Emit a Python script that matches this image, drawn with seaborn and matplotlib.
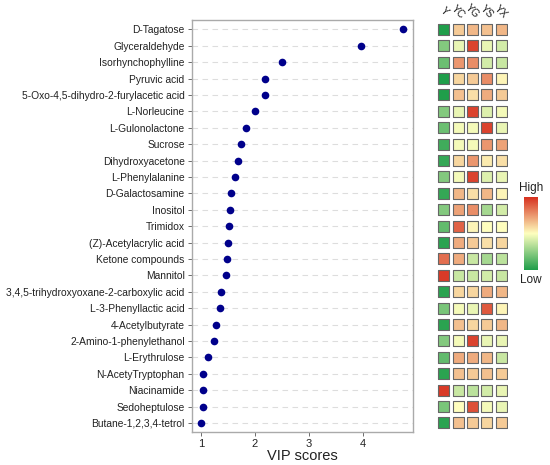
import numpy as np
import pandas as pd
import matplotlib
matplotlib.use("Agg")
import matplotlib.pyplot as plt
import seaborn as sns
from matplotlib.colors import LinearSegmentedColormap, Normalize

# metabolitler ve VIP skorlari (ustten alta)
metabolites = ["D-Tagatose", "Glyceraldehyde", "Isorhynchophylline", "Pyruvic acid",
               "5-Oxo-4,5-dihydro-2-furylacetic acid", "L-Norleucine", "L-Gulonolactone",
               "Sucrose", "Dihydroxyacetone", "L-Phenylalanine", "D-Galactosamine",
               "Inositol", "Trimidox", "(Z)-Acetylacrylic acid", "Ketone compounds",
               "Mannitol", "3,4,5-trihydroxyoxane-2-carboxylic acid", "L-3-Phenyllactic acid",
               "4-Acetylbutyrate", "2-Amino-1-phenylethanol", "L-Erythrulose",
               "N-AcetyTryptophan", "Niacinamide", "Sedoheptulose", "Butane-1,2,3,4-tetrol"]
vip = [4.75, 3.96, 2.51, 2.19, 2.19, 2.00, 1.83, 1.75, 1.68, 1.64, 1.56, 1.54, 1.52,
       1.50, 1.49, 1.47, 1.37, 1.36, 1.28, 1.25, 1.13, 1.04, 1.04, 1.04, 1.00]

groups = ["Y", "YC", "YG", "YS", "YX"]
# gruplara gore olceklenmis seviye (-1 dusuk, 1 yuksek)
level_Y  = [-1.0, -0.55, -0.65, -1.0, -1.0, -0.55, -0.65, -0.85, -0.9, -0.55, -0.9, -0.55, -0.7,
            -0.95, 0.7, 0.95, -0.95, -0.6, -0.95, -0.55, -0.7, -0.95, 0.95, -0.6, -0.95]
level_YC = [0.25, -0.1, 0.5, 0.2, 0.3, -0.1, -0.05, -0.05, 0.2, -0.05, 0.35, 0.45, 0.75,
            0.4, 0.4, -0.25, 0.2, -0.05, 0.3, -0.05, 0.4, 0.3, -0.25, 0.0, 0.3]
level_YG = [0.35, 0.9, 0.55, 0.25, 0.15, 0.9, -0.05, -0.05, 0.5, 0.9, 0.15, 0.55, 0.05,
            0.25, -0.25, -0.25, 0.2, -0.1, 0.2, 0.9, 0.4, 0.25, -0.3, 0.85, 0.25]
level_YS = [0.3, -0.1, -0.2, 0.55, 0.4, -0.15, 0.9, 0.5, 0.1, -0.15, 0.35, -0.4, 0.0,
            0.15, -0.4, -0.2, 0.4, 0.8, 0.25, -0.1, 0.35, 0.3, -0.2, -0.05, 0.2]
level_YX = [0.35, -0.2, -0.25, 0.05, 0.25, -0.05, -0.1, 0.45, 0.15, -0.1, 0.05, -0.2, 0.0,
            0.2, -0.3, -0.25, 0.35, 0.05, 0.35, -0.1, -0.25, 0.25, -0.1, -0.1, 0.25]

sns.set_style("white")
plt.rcParams["font.family"] = ["Liberation Sans", "DejaVu Sans"]

n = len(metabolites)
fig = plt.figure(figsize=(5.5, 4.65), dpi=100)

# --- VIP dot plot ---
ax = fig.add_axes([0.3485, 0.071, 0.4025, 0.886])
df = pd.DataFrame({"metabolite": metabolites, "vip": vip})
sns.stripplot(data=df, x="vip", y="metabolite", jitter=False, color="#00008B",
              size=5.5, ax=ax, zorder=3)
for i in range(n):
    ax.axhline(i, color="#dddddd", lw=0.8, ls=(0, (5, 4)), zorder=1)
ax.set_xlim(0.83, 4.93)
ax.set_ylim(n - 0.45, -0.57)
ax.set_xticks([1, 2, 3, 4])
ax.set_xlabel("VIP scores", fontsize=10.5, color="#222222", labelpad=0)
ax.set_ylabel("")
ax.tick_params(axis="both", length=3, width=0.6, color="#555555", labelsize=7.4,
               labelcolor="#222222", pad=2, left=True, bottom=True)
ax.tick_params(axis="x", labelsize=8)
for s in ax.spines.values():
    s.set_color("#aaaaaa")
    s.set_linewidth(1.0)

# --- heatmap kareleri ---
cmap = LinearSegmentedColormap.from_list("gr", ["#1f9e4a", "#ffffbf", "#d7301f"])
norm = Normalize(-1, 1)
hm = pd.DataFrame({"Y": level_Y, "YC": level_YC, "YG": level_YG, "YS": level_YS, "YX": level_YX},
                  index=metabolites)
long = hm.reset_index().melt(id_vars="index", var_name="group", value_name="level")
long["xi"] = long["group"].map({g: i for i, g in enumerate(groups)})
long["yi"] = long["index"].map({m: i for i, m in enumerate(metabolites)})

hax = fig.add_axes([436.8 / 550, 0.071, 71.5 / 550, 0.886])
hax.scatter(long["xi"], long["yi"], c=cmap(norm(long["level"])), marker="s", s=62,
            edgecolors="#666666", linewidths=0.8)
hax.set_xlim(-0.5, len(groups) - 0.5)
hax.set_ylim(n - 0.45, -0.57)
hax.axis("off")
for i, g in enumerate(groups):
    hax.text(i, -1.08, g, rotation=-45, ha="center", va="center", fontsize=7.5,
             color="#222222", rotation_mode="anchor", clip_on=False)

# --- renk cubugu ---
cax = fig.add_axes([524 / 550, 1 - 270 / 465, 14 / 550, 73 / 465])
grad = np.linspace(0, 1, 256).reshape(-1, 1)
cax.imshow(grad, aspect="auto", cmap=cmap, origin="lower")
cax.set_xticks([])
cax.set_yticks([])
for s in cax.spines.values():
    s.set_visible(False)
fig.text(531 / 550, 1 - 188 / 465, "High", ha="center", va="center", fontsize=8.5, color="#222222")
fig.text(531 / 550, 1 - 280 / 465, "Low", ha="center", va="center", fontsize=8.5, color="#222222")

fig.savefig("out.png", dpi=100)
